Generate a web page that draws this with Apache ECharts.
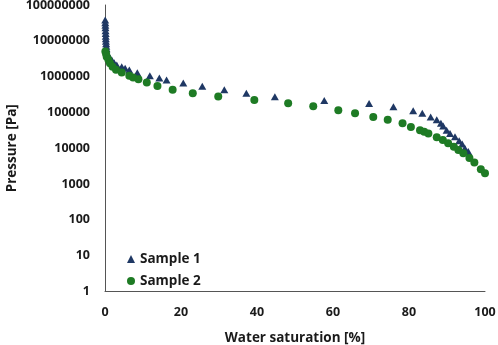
<!DOCTYPE html>
<html>
<head>
<meta charset="utf-8">
<script src="https://cdn.jsdelivr.net/npm/echarts@6/dist/echarts.min.js"></script>
<style>
html,body{margin:0;padding:0;background:#fff;}
#chart{width:498px;height:345px;}
</style>
</head>
<body>
<div id="chart"></div>
<script>
// Sample 1 (triangles): water saturation [%] and pressure [Pa]
var sample1X = [0.05, 0.08, 0.1, 0.12, 0.15, 0.18, 0.2, 0.22, 0.25, 0.3, 0.35, 0.4, 0.6, 1.2, 1.8, 2.4,
  3.1, 4.4, 5.3, 6.4, 8.5, 11.8, 14.3, 16.2, 20.6, 25.6, 31.4, 37.2, 44.7, 57.7, 69.5, 75.9,
  81.1, 83.5, 85.7, 87.3, 88.4, 89.0, 89.9, 90.8, 92.1, 93.2, 94.0, 94.7, 95.6];
var sample1Y = [38000000, 32000000, 27000000, 23000000, 19000000, 16000000, 13500000, 11500000, 9800000, 8300000, 7000000, 6000000, 4500000, 3500000, 2900000, 2450000,
  2100000, 1900000, 1700000, 1540000, 1290000, 1050000, 910000, 810000, 660000, 540000, 430000, 345000, 275000, 214000, 178000, 145000,
  112000, 95000, 74000, 62000, 50000, 42000, 32000, 26000, 21000, 16300, 13200, 10000, 8100];
// Sample 2 (circles)
var sample2X = [0.1, 0.3, 0.45, 0.9, 1.3, 2.0, 2.9, 4.4, 6.4, 7.4, 8.8, 11.0, 13.8, 17.8, 23.1, 29.8,
  39.3, 48.2, 54.8, 61.4, 65.8, 70.6, 74.4, 78.3, 80.5, 82.9, 84.0, 85.1, 87.3, 88.9, 90.3, 91.8,
  93.0, 94.3, 95.9, 97.2, 98.9, 100];
var sample2Y = [5000000, 4300000, 3600000, 2950000, 2350000, 1900000, 1550000, 1300000, 1050000, 940000, 850000, 680000, 550000, 430000, 345000, 280000,
  224000, 180000, 148000, 115000, 95000, 75000, 62000, 50000, 39000, 32000, 29000, 26000, 20400, 17000, 13800, 11000,
  8900, 7200, 5300, 4000, 2600, 2000];
var xTicks = [0, 20, 40, 60, 80, 100];
var yTicks = [1, 10, 100, 1000, 10000, 100000, 1000000, 10000000, 100000000];

function pairs(xs, ys) { return xs.map(function (x, i) { return [x, ys[i]]; }); }

var font = 'Open Sans';
var chart = echarts.init(document.getElementById('chart'), null, {renderer: 'canvas'});
chart.setOption({
  animation: false,
  backgroundColor: '#ffffff',
  grid: {left: 105, right: 13, top: 5, bottom: 53.5, containLabel: false, outerBoundsMode: 'none'},
  legend: {
    orient: 'vertical', left: 122, top: 247, itemWidth: 8, itemHeight: 8, itemGap: 8,
    textStyle: {fontFamily: font, fontWeight: 'bold', fontSize: 13.5, color: '#1a1a1a'},
    data: ['Sample 1', 'Sample 2']
  },
  xAxis: {
    type: 'value', min: xTicks[0], max: xTicks[xTicks.length - 1], interval: 20,
    name: 'Water saturation [%]', nameLocation: 'middle', nameGap: 40,
    nameTextStyle: {fontFamily: font, fontWeight: 'bold', fontSize: 13.5, color: '#1a1a1a'},
    axisLine: {show: true, lineStyle: {color: '#555', width: 1}},
    axisTick: {show: false}, splitLine: {show: false},
    axisLabel: {margin: 14, fontFamily: font, fontWeight: 'bold', fontSize: 12.5, color: '#1a1a1a'}
  },
  yAxis: {
    type: 'log', logBase: 10, min: yTicks[0], max: yTicks[yTicks.length - 1],
    name: 'Pressure [Pa]', nameLocation: 'middle', nameGap: 86, nameRotate: 90, nameMoveOverlap: false,
    nameTextStyle: {fontFamily: font, fontWeight: 'bold', fontSize: 13.5, color: '#1a1a1a'},
    axisLine: {show: true, lineStyle: {color: '#555', width: 1}},
    axisTick: {show: false}, splitLine: {show: false},
    axisLabel: {margin: 15, fontFamily: font, fontWeight: 'bold', fontSize: 12.5, color: '#1a1a1a',
      formatter: function (v) { return String(Math.round(v)); }}
  },
  series: [
    {name: 'Sample 1', type: 'scatter', symbol: 'triangle', symbolSize: [8, 7],
      itemStyle: {color: '#1f3864', opacity: 1}, data: pairs(sample1X, sample1Y)},
    {name: 'Sample 2', type: 'scatter', symbol: 'circle', symbolSize: 8,
      itemStyle: {color: '#1e7b24', opacity: 1}, data: pairs(sample2X, sample2Y)}
  ]
});
</script>
</body>
</html>
